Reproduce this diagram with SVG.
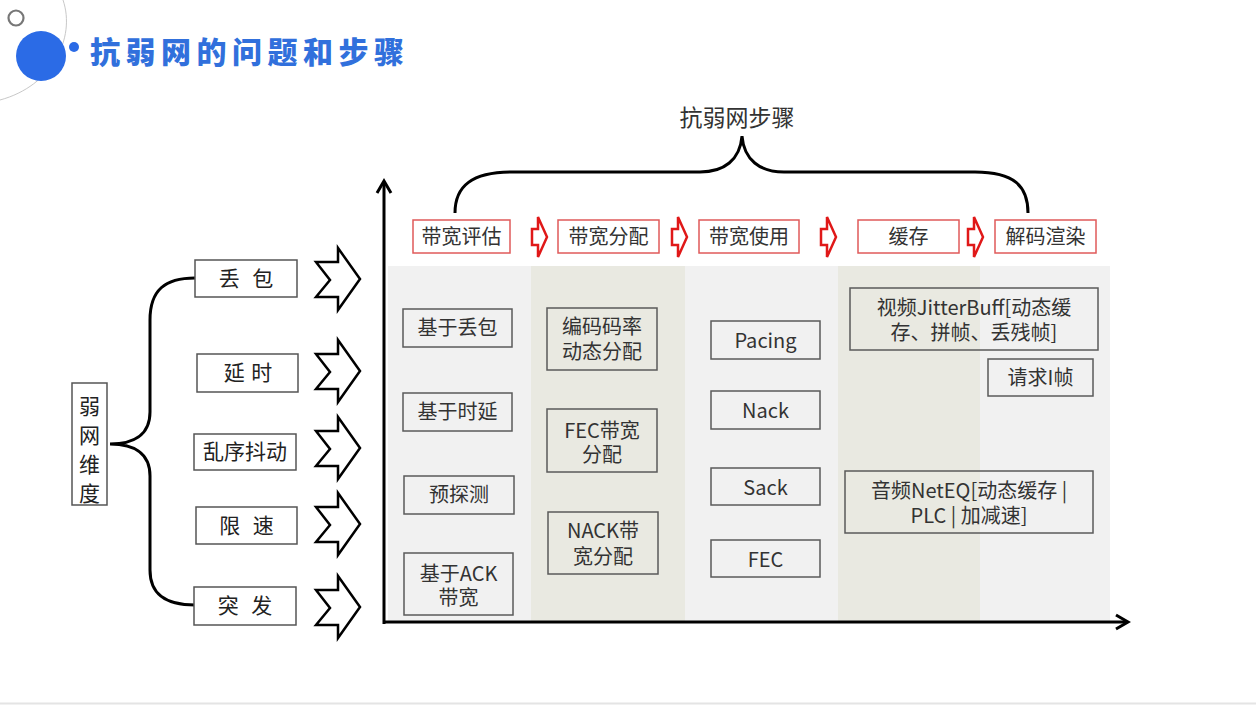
<svg xmlns="http://www.w3.org/2000/svg" width="1256" height="705" viewBox="0 0 1256 705">
<defs>
<style>
.t{font-family:"Noto Sans CJK SC","Liberation Sans",sans-serif;fill:#333;text-anchor:middle;font-size:20px}
.lt{font-family:"Noto Sans CJK SC","Liberation Sans",sans-serif;fill:#222;text-anchor:middle;font-size:21px}
.box{fill:none;stroke:#5a5a5a;stroke-width:1.5}
.lbox{fill:#fff;stroke:#555;stroke-width:1.5}
.rbox{fill:#fff;stroke:#e05a5a;stroke-width:1.5}
.ln{fill:none;stroke:#000;stroke-width:3}
.harrow{fill:#fff;stroke:#000;stroke-width:2.5;stroke-linejoin:miter}
.rarrow{fill:#fff;stroke:#e01818;stroke-width:2.5;stroke-linejoin:miter}
</style>
<path id="ha" d="M-22,-17 L0,-17 L0,-31 L22,0 L0,31 L0,18 L-22,18 L-8,1 Z"/>
<path id="ra" d="M-6,-8 L0,-8 L0,-20 L9,0 L0,20 L0,8 L-6,8 Z"/>
</defs>
<rect width="1256" height="705" fill="#fff"/>
<line x1="0" y1="703.5" x2="1256" y2="703.5" stroke="#e4e4e4" stroke-width="2"/>

<g id="header">
<path d="M63,0 C76,38 52,86 0,100" fill="none" stroke="#c8c8c8" stroke-width="1"/>
<circle cx="16" cy="18" r="7.5" fill="none" stroke="#777" stroke-width="2.2"/>
<circle cx="41" cy="56" r="25" fill="#2b6be6"/>
<circle cx="74" cy="47" r="5" fill="#2b6be6"/>
<text x="90" y="63" font-family="'Noto Sans CJK SC',sans-serif" font-weight="900" font-size="30" letter-spacing="5.5" fill="#3170dc">抗弱网的问题和步骤</text>
</g>

<g id="columns">
<rect x="388" y="266" width="143" height="355" fill="#f1f1f1"/>
<rect x="531" y="266" width="154" height="355" fill="#e9e9e1"/>
<rect x="685" y="266" width="153" height="355" fill="#f1f1f1"/>
<rect x="838" y="266" width="142" height="355" fill="#e9e9e1"/>
<rect x="980" y="266" width="130" height="355" fill="#f1f1f1"/>
</g>

<g id="connectors">
<path class="ln" d="M195,278 C165,278 150,290 150,320 L150,412 C150,436 132,444 110,444 C132,444 150,452 150,476 L150,570 C150,594 165,605 195,605"/>
<path class="ln" d="M455,213 C455,186 472,172 512,172 L700,172 C724,172 740,160 742,136 C744,160 760,172 784,172 L975,172 C1014,172 1028,186 1028,213"/>
<line x1="384" y1="182" x2="384" y2="624" stroke="#000" stroke-width="3"/>
<path d="M377,193 L384,181 L391,193" fill="none" stroke="#000" stroke-width="3"/>
<line x1="383" y1="622" x2="1127" y2="622" stroke="#000" stroke-width="3"/>
<path d="M1116,615 L1128,622 L1116,629" fill="none" stroke="#000" stroke-width="3"/>
<use href="#ha" class="harrow" x="338" y="279"/>
<use href="#ha" class="harrow" x="338" y="371"/>
<use href="#ha" class="harrow" x="338" y="448"/>
<use href="#ha" class="harrow" x="338" y="524"/>
<use href="#ha" class="harrow" x="338" y="607"/>
<use href="#ra" class="rarrow" x="538" y="237"/>
<use href="#ra" class="rarrow" x="678" y="237"/>
<use href="#ra" class="rarrow" x="827" y="237"/>
<use href="#ra" class="rarrow" x="974" y="237"/>
</g>

<g id="dim">
<rect class="lbox" x="72" y="383" width="35" height="122"/>
<text class="lt" x="89.5" y="414" font-size="22">弱</text>
<text class="lt" x="89.5" y="443" font-size="22">网</text>
<text class="lt" x="89.5" y="472" font-size="22">维</text>
<text class="lt" x="89.5" y="501" font-size="22">度</text>
</g>
<g id="n-diubao"><rect class="lbox" x="195" y="260" width="102" height="37"/><text class="lt" x="248" y="286" letter-spacing="4">丢 包</text></g>
<g id="n-yanshi"><rect class="lbox" x="197" y="354" width="101" height="38"/><text class="lt" x="248.5" y="380" letter-spacing="1">延 时</text></g>
<g id="n-luanxu"><rect class="lbox" x="194" y="434" width="102" height="36"/><text class="lt" x="245" y="459" font-size="20">乱序抖动</text></g>
<g id="n-xiansu"><rect class="lbox" x="196" y="507" width="101" height="37"/><text class="lt" x="248.5" y="533" letter-spacing="4">限 速</text></g>
<g id="n-tufa"><rect class="lbox" x="194" y="587" width="102" height="38"/><text class="lt" x="247" y="613" letter-spacing="4">突 发</text></g>

<g id="steps-title"><text class="t" x="737" y="126" font-size="23" fill="#222" style="font-size:23px">抗弱网步骤</text></g>
<g id="s1"><rect class="rbox" x="413" y="220" width="97" height="33"/><text class="t" x="461.5" y="244">带宽评估</text></g>
<g id="s2"><rect class="rbox" x="558" y="220" width="101" height="33"/><text class="t" x="608.5" y="244">带宽分配</text></g>
<g id="s3"><rect class="rbox" x="699" y="220" width="100" height="33"/><text class="t" x="749" y="244">带宽使用</text></g>
<g id="s4"><rect class="rbox" x="858" y="220" width="101" height="33"/><text class="t" x="908.5" y="244">缓存</text></g>
<g id="s5"><rect class="rbox" x="995" y="220" width="101" height="33"/><text class="t" x="1045.5" y="244">解码渲染</text></g>

<g id="c1a"><rect class="box" x="403" y="309" width="109" height="38"/><text class="t" x="457.5" y="335">基于丢包</text></g>
<g id="c1b"><rect class="box" x="403" y="393" width="109" height="38"/><text class="t" x="457.5" y="419">基于时延</text></g>
<g id="c1c"><rect class="box" x="404" y="476" width="110" height="38"/><text class="t" x="459" y="502">预探测</text></g>
<g id="c1d"><rect class="box" x="404" y="553" width="109" height="62"/><text class="t" x="458.5" y="581">基于ACK<tspan x="458.5" dy="24">带宽</tspan></text></g>

<g id="c2a"><rect class="box" x="547" y="308" width="110" height="62"/><text class="t" x="602" y="334">编码码率<tspan x="602" dy="25">动态分配</tspan></text></g>
<g id="c2b"><rect class="box" x="547" y="409" width="110" height="63"/><text class="t" x="602" y="438">FEC带宽<tspan x="602" dy="24">分配</tspan></text></g>
<g id="c2c"><rect class="box" x="548" y="512" width="110" height="62"/><text class="t" x="603" y="538">NACK带<tspan x="603" dy="26">宽分配</tspan></text></g>

<g id="c3a"><rect class="box" x="711" y="321" width="109" height="38"/><text class="t" x="765.5" y="348">Pacing</text></g>
<g id="c3b"><rect class="box" x="711" y="391" width="109" height="38"/><text class="t" x="765.5" y="418">Nack</text></g>
<g id="c3c"><rect class="box" x="711" y="468" width="109" height="37"/><text class="t" x="765.5" y="495">Sack</text></g>
<g id="c3d"><rect class="box" x="711" y="540" width="109" height="37"/><text class="t" x="765.5" y="567">FEC</text></g>

<g id="c4a"><rect class="box" x="850" y="288" width="248" height="62"/><text class="t" x="974" y="315">视频JitterBuff[动态缓<tspan x="974" dy="25">存、拼帧、丢残帧]</tspan></text></g>
<g id="c5a"><rect class="box" x="988" y="359" width="105" height="37"/><text class="t" x="1040.5" y="385">请求I帧</text></g>
<g id="c4b"><rect class="box" x="845" y="471" width="248" height="62"/><text class="t" x="969" y="498">音频NetEQ[动态缓存 |<tspan x="969" dy="25">PLC | 加减速]</tspan></text></g>
</svg>
